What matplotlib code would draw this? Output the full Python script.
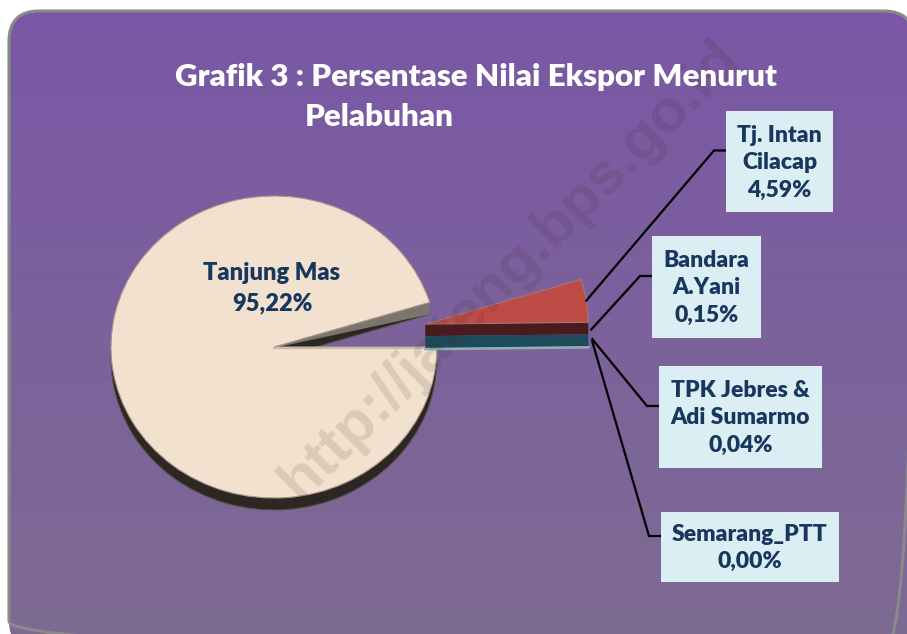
import numpy as np
import matplotlib.pyplot as plt
from matplotlib.patches import Wedge, Polygon, Rectangle, FancyBboxPatch
from matplotlib.transforms import Affine2D

# data
ports = ['Tanjung Mas', 'Tj. Intan\nCilacap', 'Bandara\nA.Yani',
         'TPK Jebres &\nAdi Sumarmo', 'Semarang_PTT']
shares = [95.22, 4.59, 0.15, 0.04, 0.00]
share_labels = ['95,22%', '4,59%', '0,15%', '0,04%', '0,00%']
colors = ['#F2E1CF', '#BF4B47', '#4A1B1D', '#1D4B59', '#8FB1B6']

title_1 = 'Grafik 3 : Persentase Nilai Ekspor Menurut'
title_2 = 'Pelabuhan'
watermark = 'http://jateng.bps.go.id'

FONT = 'Lato'
WEIGHT = 'heavy'
NAVY = '#17375E'

fig = plt.figure(figsize=(9.07, 6.34), dpi=100)
ax = fig.add_axes([0, 0, 1, 1])
ax.set_xlim(0, 907)
ax.set_ylim(634, 0)
ax.axis('off')

# rounded purple panel with a vertical gradient
panel = FancyBboxPatch((9, 11), 905, 640, boxstyle='round,pad=0,rounding_size=30',
                       facecolor='none', edgecolor='#8A8A8A', lw=2.2, zorder=2)
ax.add_patch(panel)
grad = np.linspace(0, 1, 256).reshape(-1, 1)
top = np.array([0x7A, 0x57, 0xA6]) / 255
bot = np.array([0x7E, 0x6B, 0x93]) / 255
img = top + (bot - top) * grad[..., None]
bg = ax.imshow(img, extent=(0, 907, 634, 0), aspect='auto', zorder=1)
bg.set_clip_path(panel)

# pie geometry
cx, cy, rx, ry, depth = 274, 347, 163, 151, 12
deg = np.array(shares) / sum(shares) * 360

# small slices start at 0 deg and go counter-clockwise, big slice closes the circle
order = [4, 3, 2, 1, 0]
start = {}
a = 0.0
for i in order:
    start[i] = a
    a += deg[i]
small_total = start[0]


def ell(ox, oy):
    return Affine2D().scale(rx, -ry).translate(ox, oy) + ax.transData


def rim(ox, oy, ang):
    t = np.radians(ang)
    return ox + rx * np.cos(t), oy - ry * np.sin(t)


# big slice: side wall, cut face, top face
t1, t2 = start[0], start[0] + deg[0]
ax.add_patch(Wedge((0, 0), 1, t1, t2, transform=ell(cx, cy + depth),
                   facecolor='#2C2723', edgecolor='#5A524C', lw=0.8, zorder=3))
px, py = rim(cx, cy, t1)
ax.add_patch(Polygon([(cx, cy), (px, py), (px, py + depth), (cx, cy + 1)],
                     closed=True, facecolor='#7D756D', edgecolor='none', zorder=3))
ax.add_patch(Wedge((0, 0), 1, t1, t2, transform=ell(cx, cy),
                   facecolor=colors[0], edgecolor='#A8998C', lw=0.8, zorder=4))
ax.plot([cx, cx + rx], [cy + 0.5, cy + 0.5], color='#C9B9AA', lw=1.6, zorder=4)

# exploded small slices
mid = np.radians(small_total / 2)
dist = 153
vx, vy = cx + dist * np.cos(mid), cy - dist * np.sin(mid)

# thin slices shown as stacked side bands under the red one
lo = start[1]
ex, ey = rim(vx, vy, lo)
for k, i in enumerate([2, 3]):
    y0, y1 = k * depth, (k + 1) * depth
    ax.add_patch(Polygon([(vx, vy + y0), (ex, ey + y0), (ex, ey + y1), (vx, vy + y1)],
                         closed=True, facecolor=colors[i], edgecolor='none', zorder=5))
ax.plot([vx, ex], [vy + 2 * depth + 1, ey + 2 * depth + 1], color=colors[4],
        lw=1.8, zorder=5)
ax.add_patch(Wedge((0, 0), 1, start[1], start[1] + deg[1], transform=ell(vx, vy),
                   facecolor=colors[1], edgecolor='#9C7A78', lw=0.8, zorder=6))

# anchors for leader lines
anchors = {
    1: rim(vx, vy, start[1] + deg[1] / 2),
    2: (ex + 3, ey + depth * 0.6),
    3: (ex + 4, ey + depth * 1.4),
    4: (ex + 4, ey + depth * 1.6),
}

# watermark
ax.text(510, 270, watermark, rotation=45, rotation_mode='anchor', ha='center',
        va='center', fontsize=43, fontweight='bold', family='Liberation Sans',
        color='#3A2418', alpha=0.12, zorder=7)

# title
ax.text(175, 77, title_1, ha='left', va='center', fontsize=22.5, fontweight=WEIGHT,
        family=FONT, color='white', zorder=8)
ax.text(305, 117, title_2, ha='left', va='center', fontsize=22.5, fontweight=WEIGHT,
        family=FONT, color='white', zorder=8)

# label inside big slice
ax.text(272, 288, f'{ports[0]}\n{share_labels[0]}', ha='center', va='center',
        fontsize=17, fontweight=WEIGHT, family=FONT, color=NAVY,
        linespacing=1.45, zorder=8)

# label boxes (x, y, w, h)
boxes = {
    1: (726, 111, 107, 101),
    2: (652, 236, 109, 102),
    3: (659, 366, 163, 102),
    4: (661, 512, 178, 70),
}
for i, (bx, by, bw, bh) in boxes.items():
    ax.add_patch(Rectangle((bx, by), bw, bh, facecolor='#DBEEF4', edgecolor='none',
                           zorder=9))
    ax.text(bx + bw / 2, by + bh / 2 + 1, f'{ports[i]}\n{share_labels[i]}',
            ha='center', va='center', fontsize=16.5, fontweight=WEIGHT, family=FONT,
            color=NAVY, linespacing=1.38, zorder=10)
    axx, ayy = anchors[i]
    elx, ely = bx - 12, by + bh / 2 - 11
    ax.plot([axx, elx, bx], [ayy, ely, ely], color='black', lw=1.6, zorder=8,
            solid_joinstyle='miter')

fig.savefig('out.png', dpi=100, facecolor='white')
